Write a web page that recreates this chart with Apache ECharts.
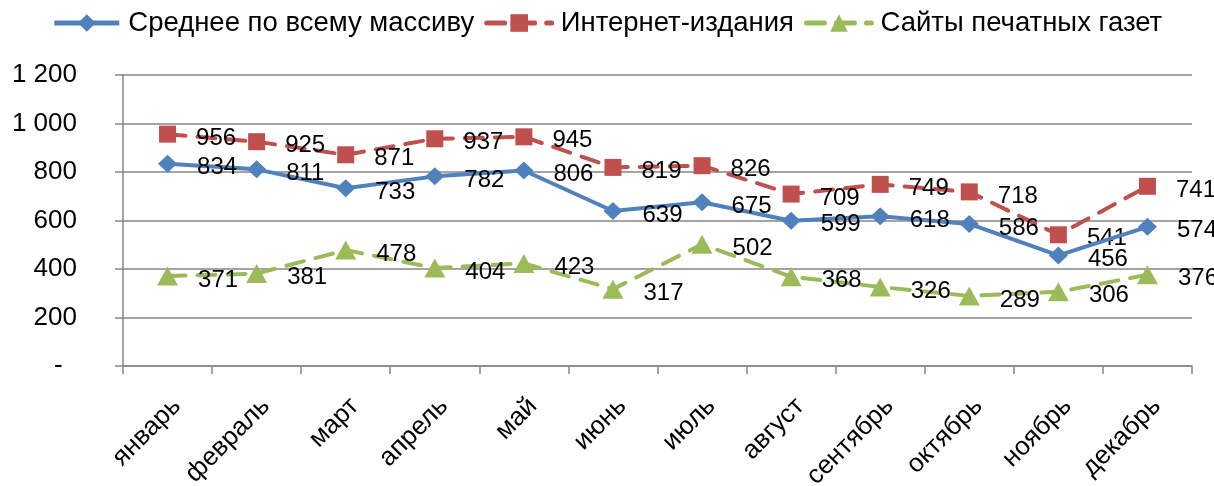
<!DOCTYPE html>
<html>
<head>
<meta charset="utf-8">
<script src="https://cdn.jsdelivr.net/npm/echarts@6/dist/echarts.min.js"></script>
<style>
  html, body { margin: 0; padding: 0; background: #fff; }
  #chart { width: 1214px; height: 486px; }
</style>
</head>
<body>
<div id="chart"></div>
<script>
const months = ['январь', 'февраль', 'март', 'апрель', 'май', 'июнь', 'июль', 'август', 'сентябрь', 'октябрь', 'ноябрь', 'декабрь']
const averageAll = [834, 811, 733, 782, 806, 639, 675, 599, 618, 586, 456, 574]
const onlineMedia = [956, 925, 871, 937, 945, 819, 826, 709, 749, 718, 541, 741]
const newspaperSites = [371, 381, 478, 404, 423, 317, 502, 368, 326, 289, 306, 376]

const font = '"Liberation Sans", Arial, sans-serif'

// подписи значений справа от точки
const valueLabel = {
  show: true,
  position: 'right',
  distance: 20,
  offset: [0, 4],
  color: '#000',
  fontSize: 24,
  fontFamily: font,
}

const chart = echarts.init(document.getElementById('chart'))

const option = {
  backgroundColor: '#fff',
  animation: false,
  textStyle: { fontFamily: font },
  legend: {
    top: 4,
    left: 'center',
    itemWidth: 65,
    itemHeight: 22,
    itemGap: 10,
    lineStyle: { width: 5 },
    textStyle: { fontSize: 27.5, color: '#000', fontFamily: font, padding: [0, 0, 0, 4] },
    data: ['Среднее по всему массиву', 'Интернет-издания', 'Сайты печатных газет'],
  },
  grid: { left: 123, right: 22, top: 75, bottom: 120, outerBoundsMode: 'none' },
  xAxis: {
    type: 'category',
    data: months,
    boundaryGap: true,
    axisLine: { lineStyle: { color: '#868686', width: 1.5 } },
    axisTick: { show: true, length: 8, alignWithLabel: false, lineStyle: { color: '#868686', width: 1.5 } },
    axisLabel: {
      rotate: 45,
      margin: 27,
      verticalAlign: 'top',
      interval: 0,
      color: '#000',
      fontSize: 26,
      fontFamily: font,
    },
  },
  yAxis: {
    type: 'value',
    min: 0,
    max: 1200,
    interval: 200,
    axisLine: { show: true, lineStyle: { color: '#868686', width: 1.5 } },
    axisTick: { show: true, length: 8, lineStyle: { color: '#868686', width: 1.5 } },
    splitLine: { lineStyle: { color: '#868686', width: 1.5 } },
    axisLabel: {
      margin: 46,
      color: '#000',
      fontSize: 26,
      fontFamily: font,
      formatter: (v) => (v === 0 ? '-  ' : String(v).replace(/\B(?=(\d{3})+(?!\d))/g, ' ')),
    },
  },
  series: [
    {
      name: 'Среднее по всему массиву',
      type: 'line',
      data: averageAll,
      symbol: 'diamond',
      symbolSize: [19, 18],
      itemStyle: { color: '#4F81BD' },
      lineStyle: { color: '#4F81BD', width: 4 },
      label: valueLabel,
      z: 3,
    },
    {
      name: 'Интернет-издания',
      type: 'line',
      data: onlineMedia,
      symbol: 'rect',
      symbolSize: 17,
      itemStyle: { color: '#C0504D' },
      lineStyle: { color: '#C0504D', width: 4, type: [18, 12], cap: 'round' },
      label: valueLabel,
      z: 2,
    },
    {
      name: 'Сайты печатных газет',
      type: 'line',
      data: newspaperSites,
      symbol: 'triangle',
      symbolSize: [21, 19],
      itemStyle: { color: '#9BBB59' },
      lineStyle: { color: '#9BBB59', width: 4, type: [18, 12], cap: 'round' },
      label: valueLabel,
      z: 2,
    },
  ],
}

chart.setOption(option)
</script>
</body>
</html>
